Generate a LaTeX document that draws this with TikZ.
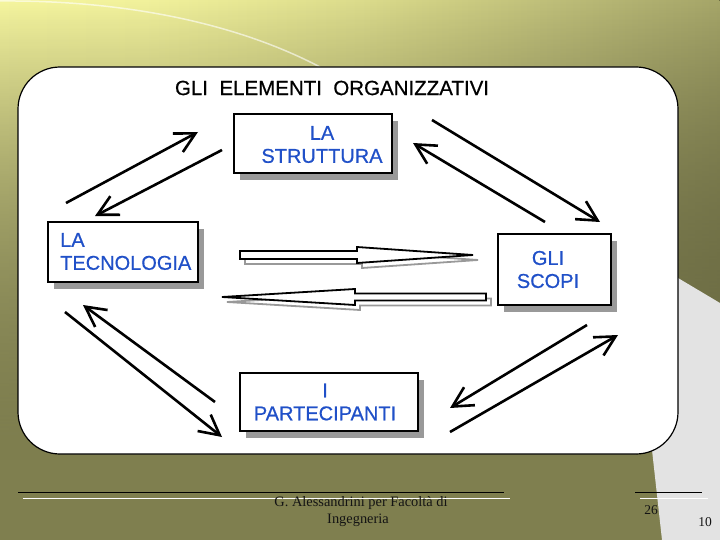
\documentclass[tikz,border=0pt]{standalone}
\usepackage{fontspec}
\setmainfont{Liberation Serif}
\newfontfamily\arialf[FakeBold=0.6]{Liberation Sans}
\usetikzlibrary{arrows.meta,fadings,shadows}
\definecolor{olivebg}{HTML}{7F7F4F}
\definecolor{ylA}{HTML}{FFFFA6}
\definecolor{ylB}{HTML}{F2F29C}
\definecolor{ylC}{HTML}{DCDC8C}
\definecolor{ylD}{HTML}{B0B070}
\definecolor{ylE}{HTML}{747446}
\definecolor{txtblue}{HTML}{2050C8}
\definecolor{shgray}{HTML}{999999}
\definecolor{sidegray}{HTML}{E3E3E3}
\definecolor{foottxt}{HTML}{141414}
\pgfdeclarehorizontalshading{topband}{100bp}{color(0bp)=(ylA); color(35bp)=(ylB); color(50bp)=(ylC); color(70bp)=(ylD); color(100bp)=(ylE)}
\tikzfading[name=fadedown, top color=transparent!0, bottom color=transparent!100]
\begin{document}
\begin{tikzpicture}[x=1pt,y=-1pt,
  elbox/.style={draw=black, line width=1.8pt, fill=white, inner sep=0pt,
    drop shadow={shadow xshift=6pt, shadow yshift=-7pt, fill=shgray, opacity=1}},
  eltext/.style={font=\arialf\fontsize{20}{23}\selectfont, text=txtblue, inner sep=0pt},
  link/.style={line width=2.6pt, black, -{Straight Barb[length=20pt,width=21pt]}},
  blockarrow/.style={draw=black, line width=1.8pt, fill=white, line join=miter},
  blockshadow/.style={draw=shgray, line width=1.8pt},
  foot/.style={font=\fontsize{14.4}{16}\selectfont, text=foottxt, inner sep=0pt}]
\useasboundingbox (0,0) rectangle (720,540);
% background
\fill[olivebg] (0,0) rectangle (720,540);
\fill[shading=topband, path fading=fadedown] (0,0) rectangle (720,460);
\draw[white, opacity=0.6, line width=1.5pt] (0,1) .. controls (130,0) and (240,25) .. (320,67);
% side gray panel
\fill[sidegray] (640,300) -- (678,278) -- (720,303) -- (720,540) -- (662,540) -- (652,450) -- cycle;
% main white panel
\draw[fill=white, line width=1.2pt, rounded corners=42pt] (18,67) rectangle (678,454);
% title
\node[font=\arialf\fontsize{20.5}{24}\selectfont, inner sep=0pt] (title) at (332,88) {GLI\ \ ELEMENTI\ \ ORGANIZZATIVI};
% boxes
\node[elbox, minimum width=158pt, minimum height=59pt] (strbox) at (313,143.5) {};
\node[eltext, align=center] (strtxt) at (322,144.5) {LA\\STRUTTURA};
\node[elbox, minimum width=150pt, minimum height=60pt] (tecbox) at (123,252) {};
\node[eltext, align=left, anchor=west] (tectxt) at (60,251.5) {LA\\TECNOLOGIA};
\node[elbox, minimum width=113pt, minimum height=71pt] (scobox) at (554.5,269.5) {};
\node[eltext, align=center] (scotxt) at (548,269.5) {GLI\\SCOPI};
\node[elbox, minimum width=178pt, minimum height=58pt] (parbox) at (329,402) {};
\node[eltext, align=center] (partxt) at (325,402) {I\\PARTECIPANTI};
% arrow end points
\coordinate (g1) at (66,203);  \coordinate (g2) at (198,132);
\coordinate (h1) at (222,150); \coordinate (h2) at (95,216);
\coordinate (a1) at (432,120); \coordinate (a2) at (600,222);
\coordinate (b1) at (545,222); \coordinate (b2) at (413,143);
\coordinate (c1) at (65,312);  \coordinate (c2) at (222,437);
\coordinate (d1) at (215,402); \coordinate (d2) at (83,305);
\coordinate (e1) at (587,325); \coordinate (e2) at (450,408);
\coordinate (f1) at (450,432); \coordinate (f2) at (618,335);
\draw[link] (g1) -- (g2);
\draw[link] (h1) -- (h2);
\draw[link] (a1) -- (a2);
\draw[link] (b1) -- (b2);
\draw[link] (c1) -- (c2);
\draw[link] (d1) -- (d2);
\draw[link] (e1) -- (e2);
\draw[link] (f1) -- (f2);
% block arrows
\begin{scope}[shift={(5,5)}]
\draw[blockshadow] (240,251) -- (357,251) -- (357,247) -- (473,255) -- (357,263) -- (357,259) -- (240,259) -- cycle;
\draw[blockshadow] (486,293.5) -- (355,293.5) -- (355,289) -- (222,297) -- (355,305) -- (355,300.5) -- (486,300.5) -- cycle;
\end{scope}
\draw[blockarrow] (240,251) -- (357,251) -- (357,247) -- (473,255) -- (357,263) -- (357,259) -- (240,259) -- cycle;
\draw[blockarrow] (486,293.5) -- (355,293.5) -- (355,289) -- (222,297) -- (355,305) -- (355,300.5) -- (486,300.5) -- cycle;
% footer
\draw[black, line width=1pt] (18,492) -- (504,492);
\draw[white, line width=1pt] (23,498) -- (510,498);
\draw[black, line width=1pt] (635,492) -- (702,492);
\draw[white, line width=1pt] (640,498) -- (708,498);
\node[foot] (auth1) at (361,503) {G. Alessandrini per Facoltà di};
\node[foot] (auth2) at (358,520) {Ingegneria};
\node[foot, font=\fontsize{13.5}{15}\selectfont] (pg1) at (651,510) {26};
\node[foot, font=\fontsize{13.5}{15}\selectfont] (pg2) at (705,522) {10};
\end{tikzpicture}
\end{document}
